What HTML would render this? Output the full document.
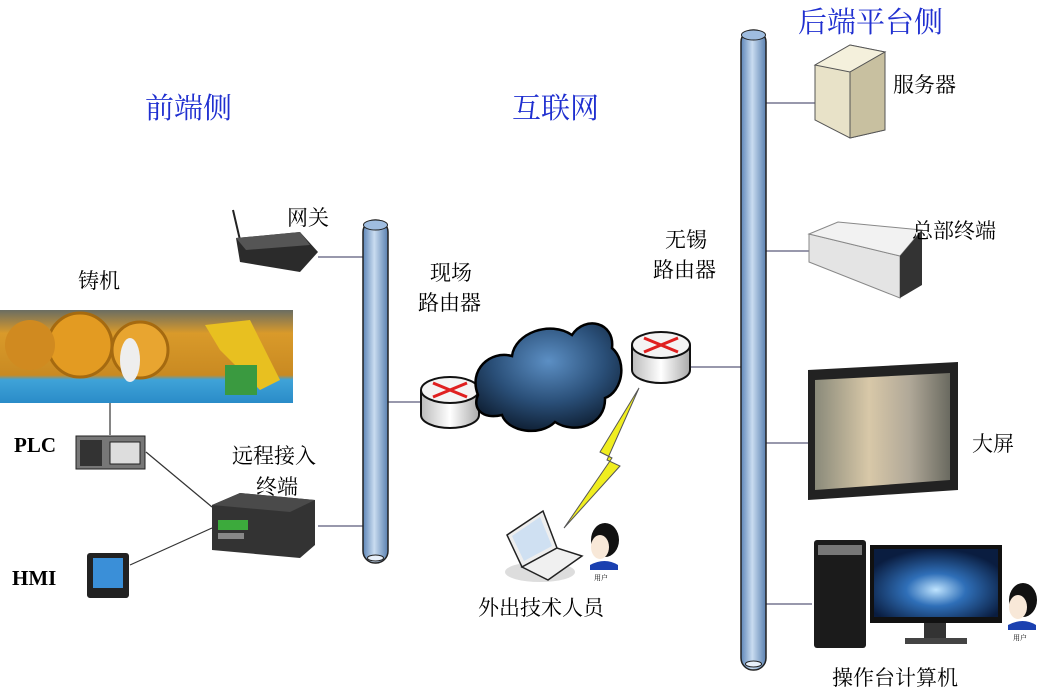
<!DOCTYPE html>
<html><head><meta charset="utf-8"><style>
html,body{margin:0;padding:0;background:#fff;}
svg{display:block;}
text{font-family:"Liberation Serif","Noto Serif CJK SC","Noto Sans CJK SC",serif;}
.t{font-size:21px;fill:#000;}
.b{font-size:29px;fill:#1f2fd0;}
</style></head><body>
<svg width="1041" height="694" viewBox="0 0 1041 694" xmlns="http://www.w3.org/2000/svg">
<defs>
<linearGradient id="pipe" x1="0" x2="1" y1="0" y2="0">
<stop offset="0" stop-color="#5e86b8"/><stop offset="0.45" stop-color="#c9dcf0"/><stop offset="1" stop-color="#5a80b0"/></linearGradient>
<linearGradient id="rt" x1="0" x2="1"><stop offset="0" stop-color="#bbb"/><stop offset="0.5" stop-color="#fff"/><stop offset="1" stop-color="#aaa"/></linearGradient>
<radialGradient id="cl" cx="0.5" cy="0.35" r="0.7"><stop offset="0" stop-color="#5c8fc4"/><stop offset="0.55" stop-color="#2a4f78"/><stop offset="1" stop-color="#0c1a2c"/></radialGradient>
<linearGradient id="photo" x1="0" x2="0" y1="0" y2="1"><stop offset="0" stop-color="#6a6d62"/><stop offset="0.25" stop-color="#d99a2a"/><stop offset="0.7" stop-color="#c98a22"/><stop offset="0.75" stop-color="#3fa3d8"/><stop offset="1" stop-color="#2a8cc8"/></linearGradient>
<linearGradient id="scr" x1="0" x2="1"><stop offset="0" stop-color="#8a8a7a"/><stop offset="0.4" stop-color="#d8c8a8"/><stop offset="0.7" stop-color="#b0a898"/><stop offset="1" stop-color="#6a6a60"/></linearGradient>
<radialGradient id="mon" cx="0.5" cy="0.6" r="0.6"><stop offset="0" stop-color="#bfe4ff"/><stop offset="0.4" stop-color="#2f6fb8"/><stop offset="1" stop-color="#0a1d40"/></radialGradient>
</defs>

<!-- titles -->
<text class="b" x="145" y="118">前端侧</text>
<text class="b" x="512" y="118">互联网</text>
<text class="b" x="798" y="32">后端平台侧</text>

<!-- connector lines -->
<g stroke="#5a5a7a" stroke-width="1.2" fill="none">
<line x1="318" y1="257" x2="364" y2="257"/>
<line x1="318" y1="526" x2="364" y2="526"/>
<line x1="388" y1="402" x2="422" y2="402"/>
<line x1="690" y1="367" x2="741" y2="367"/>
<line x1="766" y1="103" x2="815" y2="103"/>
<line x1="766" y1="251" x2="810" y2="251"/>
<line x1="766" y1="443" x2="808" y2="443"/>
<line x1="766" y1="604" x2="812" y2="604"/>
<line x1="110" y1="403" x2="110" y2="435" stroke="#333"/>
<line x1="146" y1="452" x2="212" y2="507" stroke="#333"/>
<line x1="130" y1="565" x2="212" y2="528" stroke="#333"/>
</g>

<!-- pipes -->
<rect x="363" y="220" width="25" height="343" rx="12" fill="url(#pipe)" stroke="#222" stroke-width="1.5"/>
<ellipse cx="375.5" cy="225" rx="12" ry="5" fill="#9fbde0" stroke="#222"/>
<ellipse cx="375.5" cy="558" rx="8" ry="3" fill="#e8f0fa" stroke="#222"/>
<rect x="741" y="30" width="25" height="640" rx="12" fill="url(#pipe)" stroke="#222" stroke-width="1.5"/>
<ellipse cx="753.5" cy="35" rx="12" ry="5" fill="#9fbde0" stroke="#222"/>
<ellipse cx="753.5" cy="664" rx="8" ry="3" fill="#e8f0fa" stroke="#222"/>

<!-- gateway -->
<line x1="233" y1="210" x2="240" y2="240" stroke="#222" stroke-width="2"/>
<polygon points="236,238 300,232 318,252 300,272 240,262" fill="#2b2b2b"/>
<polygon points="236,238 300,232 310,245 246,250" fill="#555"/>
<text class="t" x="287" y="225">网关</text>

<!-- casting photo -->
<text class="t" x="78" y="288">铸机</text>
<rect x="0" y="310" width="293" height="93" fill="url(#photo)"/>
<circle cx="80" cy="345" r="32" fill="#e39b22" stroke="#a56a10" stroke-width="3"/>
<circle cx="140" cy="350" r="28" fill="#e8a530" stroke="#a56a10" stroke-width="3"/>
<circle cx="30" cy="345" r="25" fill="#d08a20"/>
<ellipse cx="130" cy="360" rx="10" ry="22" fill="#eee"/>
<polygon points="205,325 250,320 280,380 260,390 220,350" fill="#e8c020"/>
<rect x="225" y="365" width="32" height="30" fill="#3a9a40"/>

<!-- PLC -->
<text x="14" y="452" style="font-size:21px;font-weight:bold">PLC</text>
<rect x="76" y="436" width="69" height="33" fill="#777" stroke="#222"/>
<rect x="80" y="440" width="22" height="26" fill="#333"/>
<rect x="110" y="442" width="30" height="22" fill="#ddd" stroke="#222"/>

<!-- HMI -->
<text x="12" y="585" style="font-size:21px;font-weight:bold">HMI</text>
<rect x="87" y="553" width="42" height="45" rx="3" fill="#222"/>
<rect x="93" y="558" width="30" height="30" fill="#3a8fd8"/>

<!-- remote terminal -->
<text class="t" x="232" y="463">远程接入</text>
<text class="t" x="256" y="494">终端</text>
<polygon points="212,505 240,493 315,500 315,545 300,558 212,550" fill="#333"/>
<polygon points="212,505 240,493 315,500 290,512" fill="#4a4a4a"/>
<rect x="218" y="520" width="30" height="10" fill="#3caa3c"/>
<rect x="218" y="533" width="26" height="6" fill="#888"/>

<!-- routers -->
<text class="t" x="430" y="280">现场</text>
<text class="t" x="418" y="310">路由器</text>
<g>
<path d="M421,390 v25 a29,13 0 0 0 58,0 v-25" fill="url(#rt)" stroke="#111" stroke-width="2"/>
<ellipse cx="450" cy="390" rx="29" ry="13" fill="#f4f4f4" stroke="#111" stroke-width="2"/>
<path d="M433,383 L467,397 M467,383 L433,397" stroke="#e02020" stroke-width="3"/>
</g>
<text class="t" x="665" y="247">无锡</text>
<text class="t" x="653" y="277">路由器</text>
<g>
<path d="M632,345 v25 a29,13 0 0 0 58,0 v-25" fill="url(#rt)" stroke="#111" stroke-width="2"/>
<ellipse cx="661" cy="345" rx="29" ry="13" fill="#f4f4f4" stroke="#111" stroke-width="2"/>
<path d="M644,338 L678,352 M678,338 L644,352" stroke="#e02020" stroke-width="3"/>
</g>

<!-- cloud -->
<path d="M478,395 C468,370 490,350 512,356 C515,333 550,320 572,335 C585,315 615,322 612,348 C628,362 622,392 605,398 C606,425 575,435 555,422 C540,437 508,432 502,415 C482,420 472,408 478,395 Z" fill="url(#cl)" stroke="#000" stroke-width="2.5"/>

<!-- lightning -->
<polygon points="639,388 600,452 612,458 564,528 620,466 607,460" fill="#f0ee20" stroke="#555" stroke-width="1"/>

<!-- laptop + person -->
<ellipse cx="540" cy="572" rx="35" ry="10" fill="#ddd"/>
<polygon points="507,535 543,511 557,548 522,567" fill="#eee" stroke="#222" stroke-width="1.5"/>
<polygon points="512,536 540,517 552,546 524,561" fill="#cfe0f2"/>
<polygon points="522,567 557,548 582,556 548,580" fill="#f0f0f0" stroke="#222" stroke-width="1.5"/>
<ellipse cx="605" cy="540" rx="14" ry="17" fill="#111"/>
<ellipse cx="600" cy="547" rx="9" ry="12" fill="#f8e8d8"/>
<path d="M590,565 q15,-8 28,0 v5 h-28 z" fill="#1a40b0"/>
<text x="594" y="580" style="font-size:7px">用户</text>
<text class="t" x="478" y="615">外出技术人员</text>

<!-- server -->
<polygon points="815,65 850,45 885,52 885,130 850,138 815,120" fill="#e8e2c8" stroke="#555"/>
<polygon points="815,65 850,45 885,52 850,72" fill="#f4f0dc" stroke="#555"/>
<polygon points="850,72 885,52 885,130 850,138" fill="#c8c0a0" stroke="#555"/>
<text class="t" x="893" y="92">服务器</text>

<!-- rack -->
<polygon points="809,234 900,256 900,298 809,262" fill="#e4e4e4" stroke="#888"/>
<polygon points="809,234 838,222 922,230 900,256" fill="#f2f2f2" stroke="#888"/>
<polygon points="900,256 922,230 922,285 900,298" fill="#333"/>
<text class="t" x="912" y="238">总部终端</text>

<!-- big screen -->
<polygon points="808,370 958,362 958,490 808,500" fill="#222"/>
<polygon points="815,380 950,373 950,480 815,490" fill="url(#scr)"/>
<text class="t" x="972" y="451">大屏</text>

<!-- PC -->
<rect x="814" y="540" width="52" height="108" rx="3" fill="#1b1b1b"/>
<rect x="818" y="545" width="44" height="10" fill="#777"/>
<rect x="870" y="545" width="132" height="78" fill="#111"/>
<rect x="874" y="549" width="124" height="68" fill="url(#mon)"/>
<rect x="924" y="623" width="22" height="15" fill="#333"/>
<rect x="905" y="638" width="62" height="6" fill="#444"/>
<ellipse cx="1023" cy="600" rx="14" ry="17" fill="#111"/>
<ellipse cx="1018" cy="607" rx="9" ry="12" fill="#f8e8d8"/>
<path d="M1008,625 q15,-8 28,0 v5 h-28 z" fill="#1a40b0"/>
<text x="1013" y="640" style="font-size:7px">用户</text>
<text class="t" x="832" y="685">操作台计算机</text>
</svg>
</body></html>
